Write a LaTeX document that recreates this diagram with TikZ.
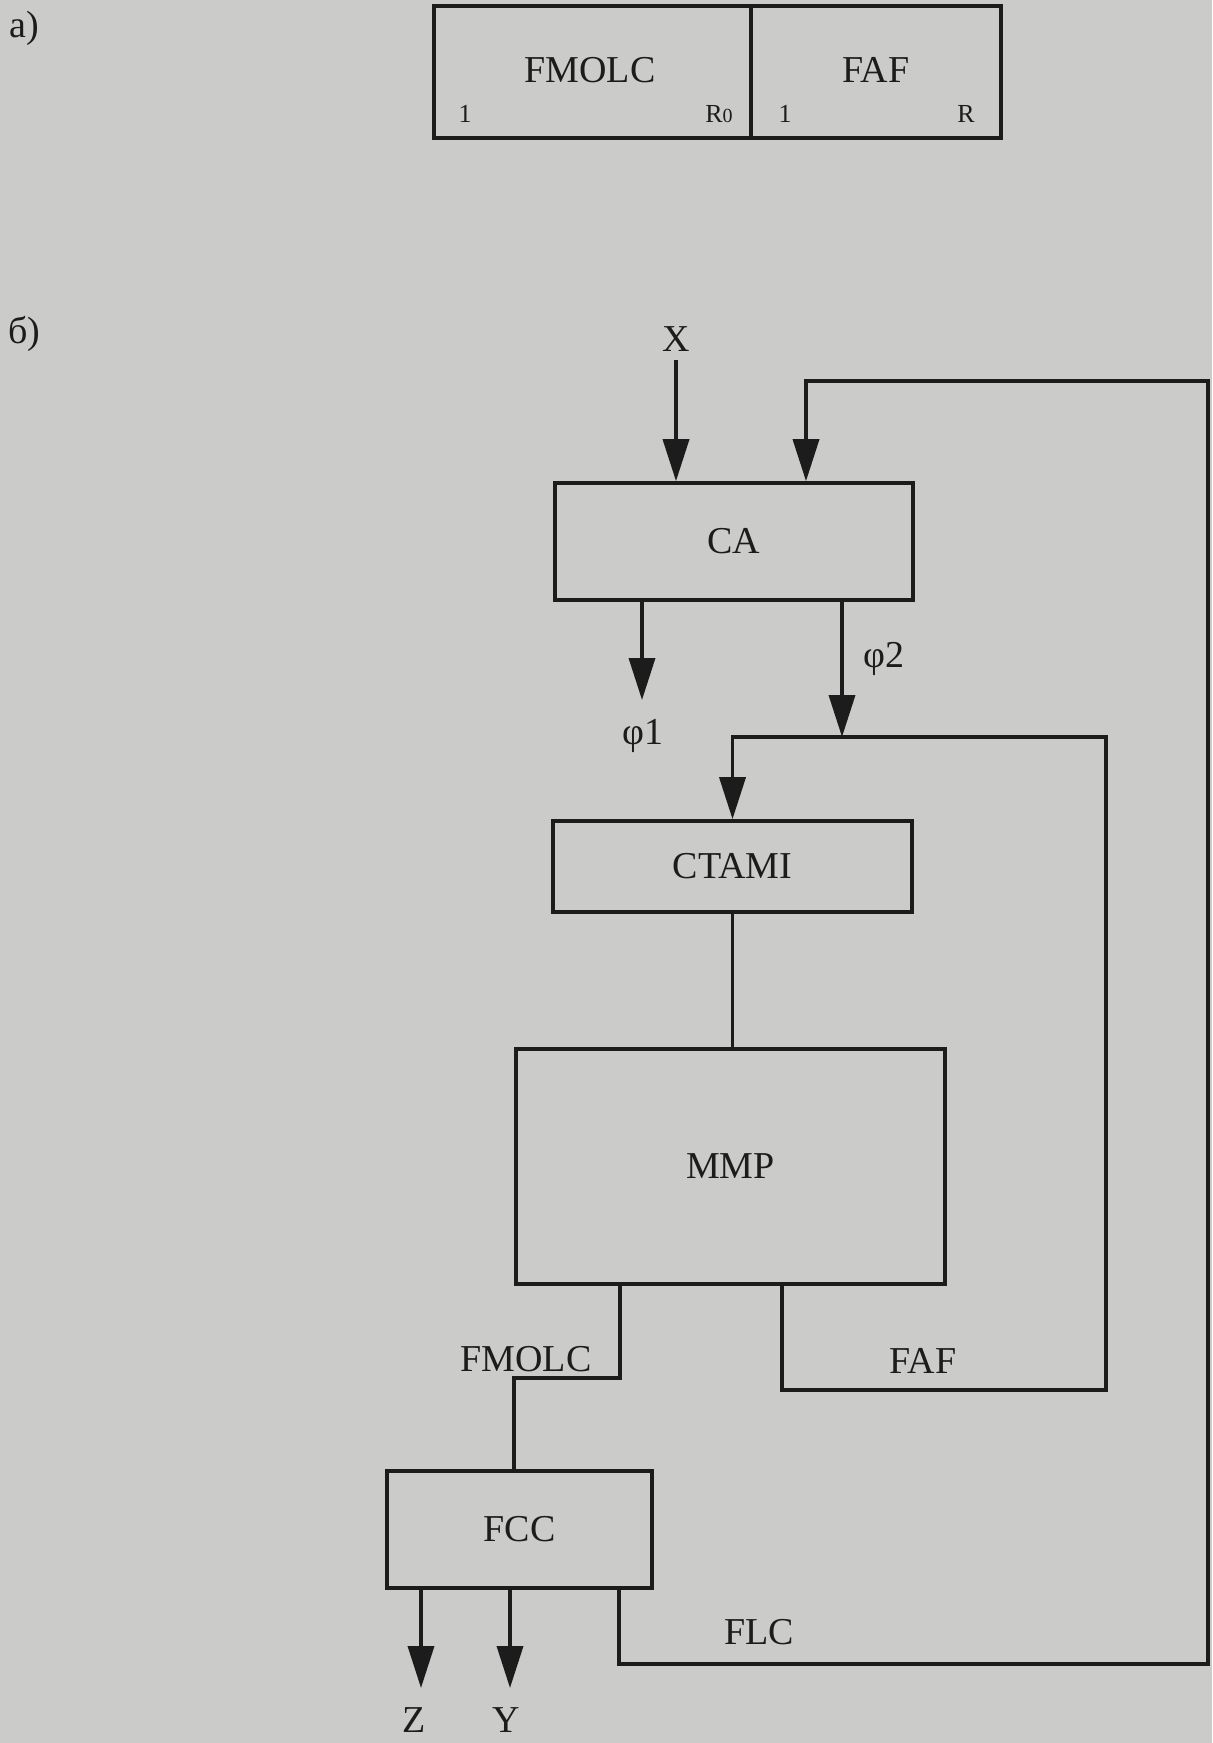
\documentclass[tikz,border=0pt]{standalone}
\usepackage{fontspec}
\setmainfont{Liberation Serif}
\usetikzlibrary{arrows.meta,positioning}
\definecolor{paper}{RGB}{203,203,201}
\definecolor{ink}{RGB}{28,28,28}

\begin{document}
\begin{tikzpicture}[x=0.5pt, y=-0.5pt, color=ink, line width=1.8pt, every node/.style={font=\fontsize{19}{21}\selectfont}, box/.style={draw,inner sep=0pt}, tag/.style={font=\fontsize{13}{15}\selectfont}, >={Triangle[length=21pt,width=13pt]}]
\fill[paper] (0,0) rectangle (1212,1743);
\useasboundingbox (0,0) rectangle (1212,1743);
% a)
\node (parta) at (24,28) {а)};
\node[box, minimum width=158.5pt, minimum height=66pt] (fmolcA) at (592.5,72) {};
\node[box, minimum width=125pt, minimum height=66pt] (fafA) at (876,72) {};
\node (fmolcAt) at (590,70) {FMOLC};
\node (fafAt) at (876,70) {FAF};
\node[tag] (oneA) at (465,114) {1};
\node[tag] (rzero) at (719,114) {R{\fontsize{10}{12}\selectfont 0}};
\node[tag] (oneB) at (785,114) {1};
\node[tag] (rA) at (966,114) {R};
% b)
\node (partb) at (24,334) {б)};
\node[box, minimum width=179pt, minimum height=58.5pt] (ca) at (734,541.5) {CA};
\node[box, minimum width=179.5pt, minimum height=45.5pt] (ctami) at (732.5,866.5) {CTAMI};
\node[box, minimum width=214.5pt, minimum height=117.5pt] (mmp) at (730.5,1166.5) {MMP};
\node[box, minimum width=132.5pt, minimum height=58.5pt] (fcc) at (519.5,1529.5) {FCC};
\node (x) at (676,339) {X};
\node (phi1) at (643,736) {φ1};
\node (phi2) at (884,659) {φ2};
\node (fmolcL) at (526,1359) {FMOLC};
\node (fafL) at (923,1361) {FAF};
\node (flcL) at (759,1632) {FLC};
\node (z) at (414,1720) {Z};
\node (y) at (506,1720) {Y};
\coordinate (p1end) at (642,700);
\coordinate (looptop) at (1106,737);
\coordinate (zend) at (421,1688);
\coordinate (yend) at (510,1688);
\coordinate (flcright) at (1208,381);
\draw[->] (x) -- (x |- ca.north);
\draw[->] (ca.south -| p1end) -- (p1end);
\draw[->] ([xshift=54pt]ca.south) -- ([xshift=54pt]ca.south |- looptop);
\draw[->] ([xshift=25.75pt]mmp.south) |- (looptop |- 0,1390) -- (looptop) -| (ctami.north);
\draw (ctami.south) -- (ctami.south |- mmp.north);
\draw ([xshift=-55.25pt]mmp.south) -- ++(0,92) -| ([xshift=-2.75pt]fcc.north);
\draw[->] (fcc.south -| zend) -- (zend);
\draw[->] (fcc.south -| yend) -- (yend);
\draw[->] ([xshift=-17.5pt]fcc.south east) -- ++(0,74) -| (flcright) -| ([xshift=36pt]ca.north);
\end{tikzpicture}
\end{document}
